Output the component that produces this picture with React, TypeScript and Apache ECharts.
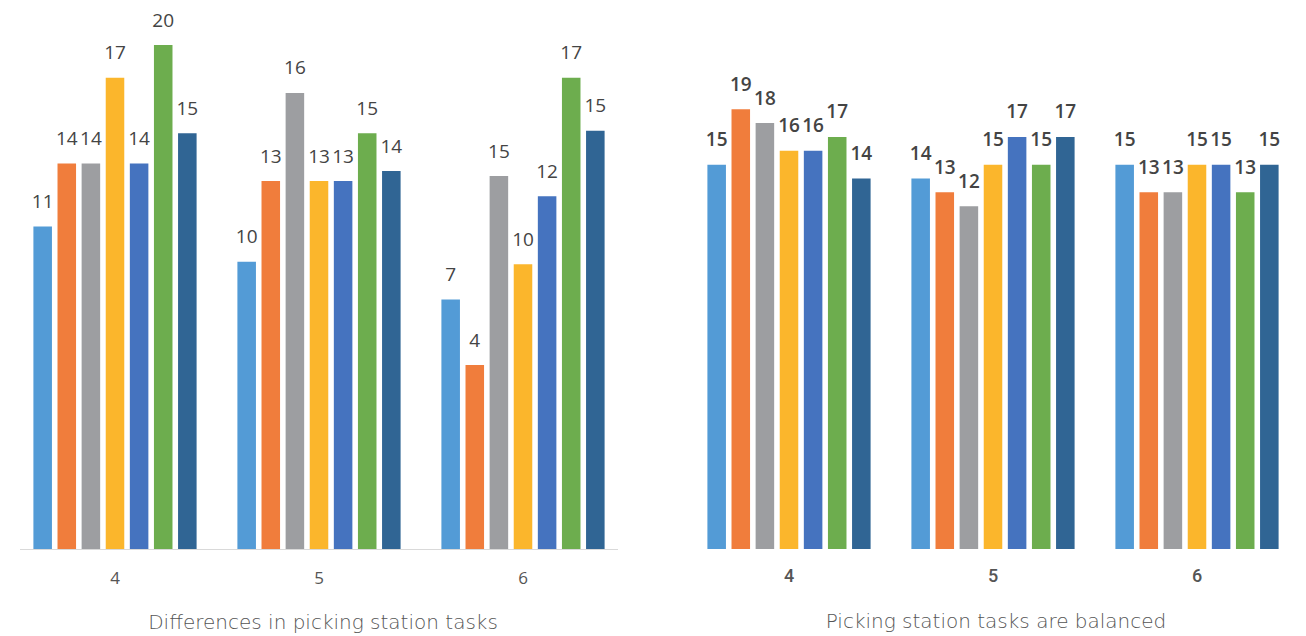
import React, { useEffect, useRef } from "react";
import * as echarts from "echarts";

const categories = ["4", "5", "6"];
const colors = ["#539bd6", "#f07d3c", "#9d9ea1", "#fbb62c", "#4573bf", "#6dad4e", "#306594"];

// Left chart: labels shown above bars (per series, across categories 4,5,6)
const leftLabels = [
  [11, 10, 7],
  [14, 13, 4],
  [14, 16, 15],
  [17, 13, 10],
  [14, 13, 12],
  [20, 15, 17],
  [15, 14, 15],
];
// Left chart: drawn bar heights (not proportional to labels)
const leftHeights = [
  [12.8, 11.4, 9.9],
  [15.3, 14.6, 7.3],
  [15.3, 18.1, 14.8],
  [18.7, 14.6, 11.3],
  [15.3, 14.6, 14.0],
  [20.0, 16.5, 18.7],
  [16.5, 15.0, 16.6],
];
// Right chart values
const rightValues = [
  [15, 14, 15],
  [19, 13, 13],
  [18, 12, 13],
  [16, 15, 15],
  [16, 17, 15],
  [17, 15, 13],
  [14, 17, 15],
];
// Right chart's value axis does not start at zero: bars rise from this floor
const rightAxisFloor = -12.75;
const rightAxisMax = 24;

const leftTitle = "Differences in picking station tasks";
const rightTitle = "Picking station tasks are balanced";

export default function App() {
  const ref = useRef<HTMLDivElement>(null);
  useEffect(() => {
    document.body.style.margin = "0";
    const chart = echarts.init(ref.current!, undefined, { renderer: "svg" });
    const leftSeries = leftHeights.map((arr, si) => ({
      type: "bar",
      xAxisIndex: 0,
      yAxisIndex: 0,
      data: arr,
      barGap: "30%",
      barCategoryGap: "20%",
      itemStyle: { color: colors[si] },
      label: {
        show: true,
        position: "top",
        distance: 16,
        fontFamily: "Open Sans",
        fontSize: 19,
        color: "#444",
        formatter: (p: any) => String(leftLabels[si][p.dataIndex]),
      },
    }));
    // bars measured from the axis floor, labelled with the true values
    const rightSeries = rightValues.map((arr, si) => ({
      type: "bar",
      xAxisIndex: 1,
      yAxisIndex: 1,
      data: arr.map((v) => v - rightAxisFloor),
      barGap: "30%",
      barCategoryGap: "20%",
      itemStyle: { color: colors[si] },
      label: {
        show: true,
        position: "top",
        distance: 16,
        fontFamily: "Open Sans",
        fontWeight: 600,
        fontSize: 19,
        color: "#444",
        formatter: (p: any) => String(rightValues[si][p.dataIndex]),
      },
    }));
    chart.setOption({
      animation: false,
      backgroundColor: "#ffffff",
      grid: [
        { left: 13, width: 612, top: 45, height: 504 },
        { left: 687, width: 612, top: 40, height: 509 },
      ],
      xAxis: [
        {
          type: "category",
          gridIndex: 0,
          data: categories,
          axisLine: { show: false },
          axisTick: { show: false },
          axisLabel: { margin: 20, fontFamily: "Open Sans", fontSize: 17, color: "#555" },
        },
        {
          type: "category",
          gridIndex: 1,
          data: categories,
          axisLine: { show: false },
          axisTick: { show: false },
          axisLabel: { margin: 17, fontFamily: "Roboto", fontWeight: 500, fontSize: 18, color: "#555" },
        },
      ],
      yAxis: [
        { type: "value", gridIndex: 0, min: 0, max: 20, show: false, splitLine: { show: false } },
        {
          type: "value",
          gridIndex: 1,
          min: 0,
          max: rightAxisMax - rightAxisFloor,
          show: false,
          splitLine: { show: false },
        },
      ],
      graphic: [
        {
          type: "line",
          shape: { x1: 20, y1: 549.5, x2: 618, y2: 549.5 },
          style: { stroke: "#d9d9d9", lineWidth: 1 },
          z: 10,
        },
        {
          type: "text",
          x: 323,
          y: 622,
          style: {
            text: leftTitle,
            fontFamily: "DejaVu Sans",
            fontWeight: 200,
            fontSize: 20,
            fill: "#555",
            align: "center",
            verticalAlign: "middle",
          },
        },
        {
          type: "text",
          x: 996,
          y: 621,
          style: {
            text: rightTitle,
            fontFamily: "DejaVu Sans",
            fontWeight: 200,
            fontSize: 20,
            fill: "#555",
            align: "center",
            verticalAlign: "middle",
          },
        },
      ],
      series: [...leftSeries, ...rightSeries],
    });
    return () => chart.dispose();
  }, []);
  return <div ref={ref} style={{ width: 1306, height: 636 }} />;
}
